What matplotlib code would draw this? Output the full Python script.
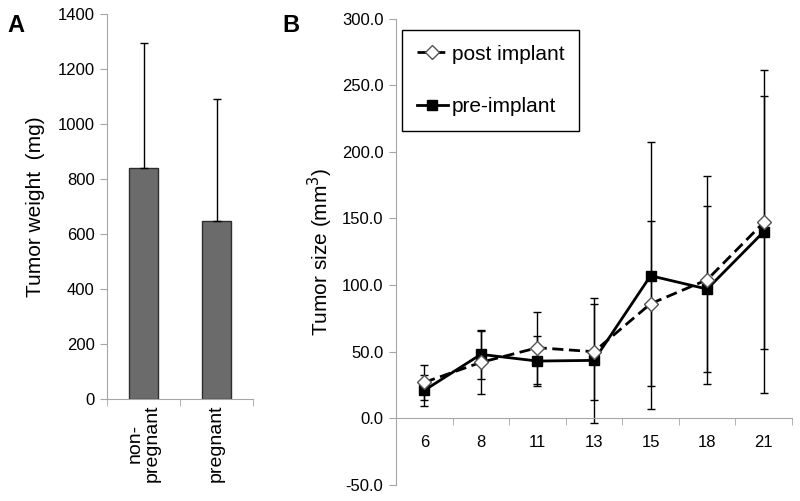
import matplotlib
matplotlib.use("Agg")
import matplotlib.pyplot as plt
import numpy as np

plt.rcParams['font.family'] = ['Liberation Sans', 'DejaVu Sans']

# Panel A data
groups = ["non-\npregnant", "pregnant"]
weight = [841, 648]
weight_err = [452, 444]

# Panel B data
days = ["6", "8", "11", "13", "15", "18", "21"]
post = [27, 42, 53, 50, 86, 104, 147]
post_err = [13, 23.5, 27, 36, 62, 78, 95]
pre = [21, 48, 43, 43.5, 107, 97, 140]
pre_err = [11.5, 18.5, 19, 47, 100, 62, 121]

GRAY = '#a6a6a6'
fig = plt.figure(figsize=(8, 5.01), dpi=100)

# ---- Panel A ----
axA = fig.add_axes([107/800, 1-399.3/501, 146/800, (399.3-14)/501])
xa = np.arange(len(groups))
axA.bar(xa, weight, width=0.4, color='#6b6b6b', edgecolor='#2e2e2e', linewidth=1.0, zorder=2)
axA.errorbar(xa, weight, yerr=[np.zeros(len(weight)), weight_err], fmt='none',
             ecolor='black', elinewidth=1.0, capsize=3, capthick=1.0, zorder=3)
axA.set_xlim(-0.5, 1.5)
axA.set_ylim(0, 1400)
axA.set_yticks(np.arange(0, 1401, 200))
axA.set_xticks(xa)
axA.set_xticklabels(groups, rotation=90, fontsize=14, va='top', ha='center',
                    multialignment='center', linespacing=1.0)
axA.set_xticks([-0.5, 0.5, 1.5], minor=True)
axA.tick_params(axis='x', which='major', length=0, pad=4)
axA.tick_params(axis='x', which='minor', length=5, color=GRAY, direction='out')
axA.tick_params(axis='y', labelsize=12, length=5, color=GRAY, direction='out', pad=4)
for s in ['top', 'right']:
    axA.spines[s].set_visible(False)
for s in ['left', 'bottom']:
    axA.spines[s].set_color(GRAY)
axA.set_ylabel("Tumor weight  (mg)", fontsize=15, labelpad=9)
fig.text(16/800, 1-25/501, "A", fontsize=17, fontweight='bold', ha='center', va='center')

# ---- Panel B ----
axB = fig.add_axes([396/800, 1-485/501, 396/800, (485-18.5)/501])
xb = np.arange(len(days))
axB.errorbar(xb, post, yerr=post_err, fmt='none', ecolor='black', elinewidth=1.0,
             capsize=3, capthick=1.0, zorder=2)
axB.errorbar(xb, pre, yerr=pre_err, fmt='none', ecolor='black', elinewidth=1.0,
             capsize=3, capthick=1.0, zorder=2)
axB.plot(xb, pre, '-', color='black', lw=2, marker='s', markersize=7,
         markerfacecolor='black', markeredgecolor='black', label='pre-implant', zorder=3)
axB.plot(xb, post, '--', color='black', lw=2, dashes=(4, 2), marker='D', markersize=7,
         markerfacecolor='white', markeredgecolor='#555555', markeredgewidth=1.0,
         label='post implant', zorder=4)
axB.set_xlim(-0.5, 6.5)
axB.set_ylim(-50, 300)
axB.set_yticks(np.arange(-50, 301, 50))
axB.set_yticklabels([f"{v:.1f}" for v in np.arange(-50, 301, 50)])
axB.set_xticks(xb)
axB.set_xticklabels(days)
axB.set_xticks(np.arange(-0.5, 6.6, 1), minor=True)
axB.tick_params(axis='x', which='major', length=0, pad=12, labelsize=12)
axB.tick_params(axis='x', which='minor', length=5, color=GRAY, direction='out')
axB.tick_params(axis='y', labelsize=12, length=5, color=GRAY, direction='out', pad=4)
for s in ['top', 'right']:
    axB.spines[s].set_visible(False)
for s in ['left', 'bottom']:
    axB.spines[s].set_color(GRAY)
axB.spines['bottom'].set_position(('data', 0))
axB.set_ylabel("Tumor size (mm$^3$)", fontsize=15, labelpad=5)
fig.text(291/800, 1-26/501, "B", fontsize=17, fontweight='bold', ha='center', va='center')

h, l = axB.get_legend_handles_labels()
leg = axB.legend([h[1], h[0]], [l[1], l[0]], loc='upper left',
                 bbox_to_anchor=(0.015, 0.975), borderaxespad=0, fontsize=15,
                 frameon=True, fancybox=False, edgecolor='black', framealpha=1,
                 handlelength=1.5, handletextpad=0.2,
                 labelspacing=1.6, borderpad=0.7)
leg.get_frame().set_linewidth(1.0)

fig.savefig("out.png", dpi=100)
